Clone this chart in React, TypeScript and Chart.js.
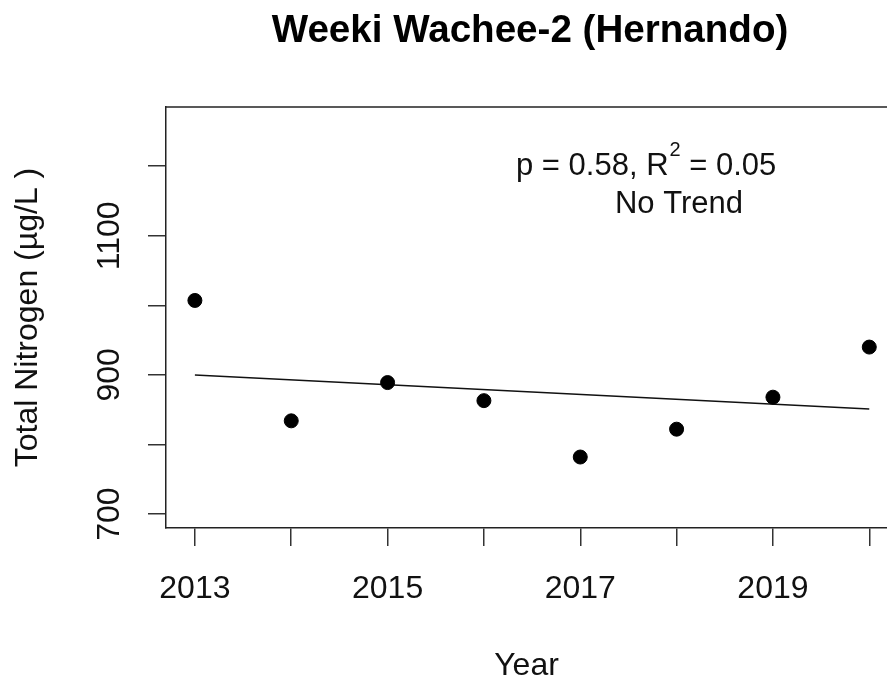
import React, { useEffect, useRef } from 'react';
import { Chart, registerables } from 'chart.js';

Chart.register(...registerables);

const FONT = '"Liberation Sans", Arial, sans-serif';

const titleText = 'Weeki Wachee-2 (Hernando)';
const xTitle = 'Year';
const yTitle = 'Total Nitrogen (µg/L )';
const years = [2013, 2014, 2015, 2016, 2017, 2018, 2019, 2020];
const nitrogen = [1007, 834, 889, 863, 782, 822, 868, 940];
const trendYears = [2013, 2020];
const trendValues = [900, 851];
const xTickYears = [2013, 2014, 2015, 2016, 2017, 2018, 2019, 2020];
const xLabelYears = [2013, 2015, 2017, 2019];
const yTickValues = [700, 800, 900, 1000, 1100, 1200];
const yLabelValues = [700, 900, 1100];
const statParts = ['p = 0.58, R', '2', ' = 0.05'];
const trendLabel = 'No Trend';

const annotPlugin = {
  id: 'annot',
  afterDraw(chart: any) {
    const { ctx, chartArea } = chart;
    ctx.save();
    ctx.strokeStyle = '#222';
    ctx.lineWidth = 1.5;
    ctx.beginPath();
    ctx.moveTo(chartArea.left, chartArea.top);
    ctx.lineTo(chartArea.right, chartArea.top);
    ctx.stroke();

    ctx.fillStyle = '#000';
    ctx.textBaseline = 'alphabetic';
    ctx.font = `bold 38.6px ${FONT}`;
    ctx.textAlign = 'center';
    ctx.fillText(titleText, 530, 42);

    ctx.fillStyle = '#111';
    ctx.textAlign = 'left';
    const x0 = 516;
    const base = 175;
    ctx.font = `31px ${FONT}`;
    ctx.fillText(statParts[0], x0, base);
    const w0 = ctx.measureText(statParts[0]).width;
    ctx.font = `20px ${FONT}`;
    ctx.fillText(statParts[1], x0 + w0 + 1, base - 19);
    const w1 = ctx.measureText(statParts[1]).width;
    ctx.font = `31px ${FONT}`;
    ctx.fillText(statParts[2], x0 + w0 + 1 + w1, base);

    ctx.textAlign = 'center';
    ctx.fillText(trendLabel, 679, 213);
    ctx.restore();
  },
};

export default function App() {
  const ref = useRef<HTMLCanvasElement | null>(null);
  useEffect(() => {
    if (!ref.current) return;
    const chart = new Chart(ref.current, {
      type: 'scatter',
      data: {
        datasets: [
          {
            data: years.map((y, i) => ({ x: y, y: nitrogen[i] })),
            backgroundColor: '#000',
            borderColor: '#000',
            pointRadius: 7,
            pointHoverRadius: 7,
          },
          {
            data: trendYears.map((y, i) => ({ x: y, y: trendValues[i] })),
            showLine: true,
            borderColor: '#111',
            borderWidth: 1.5,
            pointRadius: 0,
            fill: false,
          },
        ],
      },
      options: {
        responsive: false,
        animation: false,
        devicePixelRatio: 1,
        layout: { autoPadding: false, padding: { top: 107, left: 0, right: 0, bottom: 0 } },
        plugins: { legend: { display: false }, tooltip: { enabled: false }, title: { display: false } },
        scales: {
          x: {
            type: 'linear',
            min: 2012.7,
            max: 2020.184,
            afterFit: (s: any) => { s.height = 154; s.paddingLeft = 0; s.paddingRight = 0; },
            afterBuildTicks: (s: any) => { s.ticks = xTickYears.map((v) => ({ value: v })); },
            border: { display: true, color: '#222', width: 1.5 },
            grid: { drawOnChartArea: false, drawTicks: true, tickLength: 18, tickColor: '#333', lineWidth: 1.5 },
            ticks: {
              autoSkip: false,
              maxRotation: 0,
              minRotation: 0,
              padding: 27,
              color: '#111',
              font: { family: FONT, size: 32, lineHeight: 1 },
              callback: (v: any) => (xLabelYears.includes(Number(v)) ? String(v) : ''),
            },
            title: {
              display: true,
              text: xTitle,
              color: '#111',
              font: { family: FONT, size: 32, lineHeight: 1 },
              padding: { top: 0, bottom: 0 },
            },
          },
          y: {
            type: 'linear',
            min: 680,
            max: 1285,
            afterFit: (s: any) => { s.width = 166; s.paddingTop = 0; s.paddingBottom = 0; },
            afterBuildTicks: (s: any) => { s.ticks = yTickValues.map((v) => ({ value: v })); },
            border: { display: true, color: '#222', width: 1.5 },
            grid: { drawOnChartArea: false, drawTicks: true, tickLength: 18, tickColor: '#333', lineWidth: 1.5 },
            ticks: {
              autoSkip: false,
              minRotation: 90,
              maxRotation: 90,
              crossAlign: 'center',
              padding: 3,
              color: '#111',
              font: { family: FONT, size: 32, lineHeight: 1 },
              callback: (v: any) => (yLabelValues.includes(Number(v)) ? String(v) : ''),
            },
            title: {
              display: true,
              text: yTitle,
              color: '#111',
              font: { family: FONT, size: 32, lineHeight: 1 },
              padding: { top: 12, bottom: 0 },
            },
          },
        },
      },
      plugins: [annotPlugin],
    });
    return () => chart.destroy();
  }, []);
  return (
    <div style={{ position: 'absolute', left: 0, top: 0, width: 887, height: 682, background: '#fff' }}>
      <canvas ref={ref} width={887} height={682} style={{ display: 'block' }} />
    </div>
  );
}
